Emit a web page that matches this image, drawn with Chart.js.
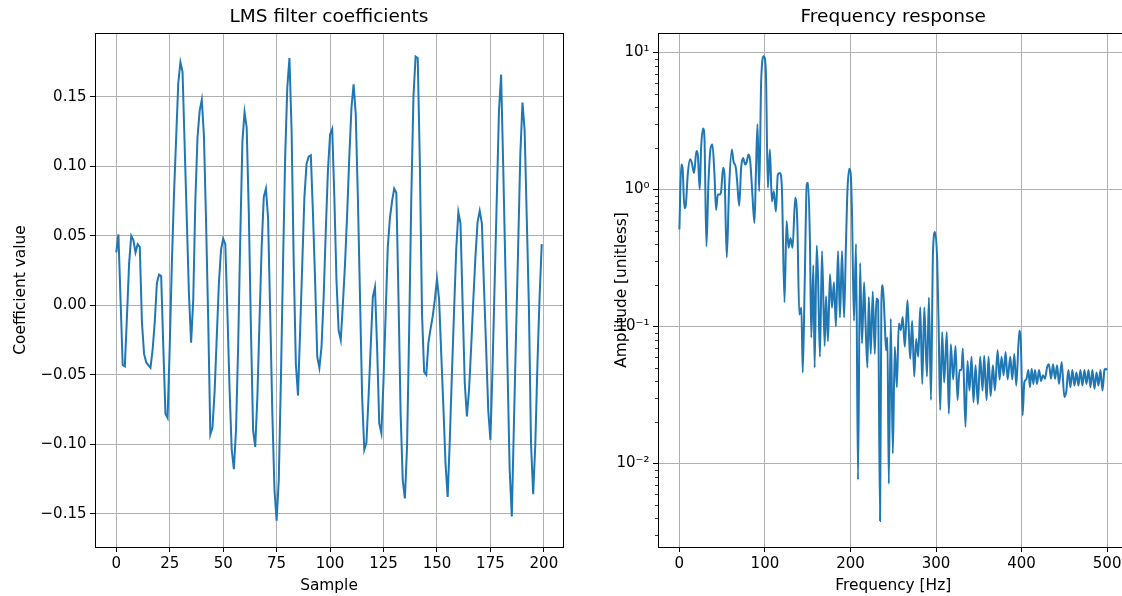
<!DOCTYPE html>
<html lang="en">
<head>
    <meta charset="UTF-8">
    <title>LMS filter</title>
    <script src="https://cdn.jsdelivr.net/npm/chart.js"></script>
    <style>
        html, body {
            margin: 0;
            padding: 0;
            width: 1122px;
            height: 596px;
            overflow: hidden;
            background: #fff;
        }
        .panel {
            position: absolute;
            top: 0;
            height: 596px;
        }
        #left-panel { left: 0; width: 570px; }
        #right-panel { left: 570px; width: 600px; }
    </style>
</head>
<body>
    <div id="left-panel" class="panel"><canvas id="coefChart"></canvas></div>
    <div id="right-panel" class="panel"><canvas id="freqChart"></canvas></div>

    <script>
        // LMS filter coefficients, one value per sample 0..199
        const coefficients = [
            0.038, 0.051, 0.004, -0.043, -0.044, -0.008, 0.030, 0.050, 0.047, 0.038,
            0.044, 0.042, -0.012, -0.035, -0.041, -0.043, -0.045, -0.032, -0.012, 0.016,
            0.022, 0.021, -0.030, -0.078, -0.081, -0.030, 0.030, 0.080, 0.120, 0.160,
            0.175, 0.168, 0.114, 0.061, 0.008, -0.027, 0.004, 0.076, 0.121, 0.140,
            0.148, 0.122, 0.060, -0.010, -0.093, -0.088, -0.062, -0.023, 0.016, 0.040,
            0.048, 0.044, -0.006, -0.061, -0.104, -0.118, -0.090, -0.030, 0.049, 0.118,
            0.139, 0.128, 0.066, -0.018, -0.090, -0.102, -0.066, -0.011, 0.042, 0.078,
            0.084, 0.063, -0.006, -0.078, -0.133, -0.155, -0.126, -0.054, 0.030, 0.107,
            0.157, 0.178, 0.126, 0.030, -0.042, -0.065, -0.018, 0.030, 0.078, 0.102,
            0.107, 0.108, 0.066, 0.018, -0.037, -0.045, -0.030, 0.006, 0.054, 0.097,
            0.123, 0.127, 0.078, 0.018, -0.018, -0.025, 0.001, 0.030, 0.066, 0.107,
            0.142, 0.159, 0.138, 0.078, 0.006, -0.066, -0.104, -0.099, -0.066, -0.030,
            0.006, 0.013, -0.030, -0.085, -0.092, -0.054, -0.006, 0.042, 0.063, 0.075,
            0.084, 0.081, 0.006, -0.078, -0.126, -0.139, -0.102, -0.018, 0.078, 0.150,
            0.179, 0.178, 0.102, -0.006, -0.048, -0.050, -0.027, -0.017, -0.008, 0.004,
            0.019, 0.004, -0.035, -0.073, -0.114, -0.138, -0.097, -0.049, -0.004, 0.040,
            0.067, 0.059, 0.001, -0.056, -0.080, -0.061, -0.030, 0.004, 0.035, 0.060,
            0.068, 0.059, 0.013, -0.031, -0.076, -0.097, -0.044, 0.017, 0.078, 0.140,
            0.166, 0.099, 0.027, -0.045, -0.118, -0.152, -0.085, -0.020, 0.044, 0.109,
            0.146, 0.126, 0.063, -0.001, -0.100, -0.136, -0.100, -0.042, 0.006, 0.044
        ];

        // frequency response
        const freqHz = [
            0, 2.2, 3.7, 5.9, 7.4, 9.8, 12.5, 14.5, 17.2, 19.9,
            21.5, 23.8, 25.4, 27.7, 29.3, 31.6, 33.9, 36.3, 38.6, 41.0,
            42.9, 44.9, 47.2, 48.8, 51.1, 52.7, 55.4, 58.1, 61.3, 63.2,
            66.0, 67.5, 69.9, 72.2, 74.5, 76.9, 78.5, 80.8, 82.8, 85.1,
            87.8, 89.4, 91.3, 93.3, 95.6, 98.7, 101.1, 103.4, 105.8, 108.1,
            110.4, 112.8, 115.1, 117.5, 119.8, 122.9, 125.3, 127.6, 129.9, 132.3,
            135.4, 137.8, 140.2, 142.6, 144.2, 146.5, 148.9, 150.5, 152.6, 154.2,
            156.6, 158.1, 160.5, 162.0, 164.3, 166.7, 169.8, 171.4, 173.7, 176.0,
            178.4, 180.7, 183.0, 185.4, 187.7, 190.1, 192.5, 194.6, 196.5, 198.7,
            200.3, 201.8, 204.1, 206.5, 208.8, 211.2, 213.5, 215.9, 217.5, 219.8,
            221.4, 223.7, 226.0, 228.4, 230.3, 232.2, 234.6, 236.1, 237.7, 240.0,
            241.6, 243.2, 244.8, 247.1, 249.5, 251.8, 254.2, 256.5, 258.8, 261.1,
            263.5, 266.6, 268.2, 269.8, 272.1, 274.5, 276.8, 279.2, 281.6, 283.9,
            286.3, 289.4, 291.7, 294.1, 296.4, 298.8, 301.4, 303.2, 304.8, 307.2,
            309.5, 312.6, 315.0, 317.3, 320.0, 322.8, 325.1, 327.5, 329.8, 331.3,
            334.4, 336.8, 339.1, 341.5, 343.8, 346.2, 348.9, 351.6, 354.4, 356.3,
            359.1, 361.4, 363.8, 366.5, 368.8, 372.0, 374.3, 376.6, 379.0, 381.3,
            383.7, 386.8, 389.1, 391.5, 393.8, 397.4, 399.3, 401.2, 403.2, 405.5,
            408.0, 409.8, 411.8, 413.8, 415.7, 418.0, 420.4, 422.7, 425.0, 427.4,
            429.7, 432.0, 434.4, 436.8, 439.1, 441.5, 443.8, 446.9, 450.0, 452.4,
            454.7, 457.1, 459.4, 461.8, 464.1, 466.5, 468.8, 471.1, 473.5, 475.8,
            478.2, 480.5, 482.8, 485.2, 487.6, 489.9, 492.2, 494.6, 496.9, 498.4,
            500.0
        ];
        const amplitude = [
            0.51, 1.52, 1.44, 0.73, 0.76, 1.29, 1.66, 1.57, 1.32, 1.91,
            1.80, 1.00, 2.01, 2.79, 2.38, 0.385, 1.09, 1.96, 2.13, 1.29,
            0.71, 0.92, 0.92, 0.97, 1.44, 1.29, 0.32, 1.03, 1.96, 1.61,
            1.44, 1.15, 0.76, 1.44, 1.70, 1.52, 1.57, 1.80, 1.61, 0.97,
            0.57, 1.29, 3.0, 0.97, 6.2, 9.4, 7.3, 1.03, 1.96, 0.82,
            0.97, 0.69, 1.29, 1.32, 1.03, 0.15, 0.59, 0.375, 0.44, 0.375,
            0.87, 0.59, 0.122, 0.137, 0.046, 0.21, 1.09, 1.12, 0.42, 0.083,
            0.28, 0.05, 0.39, 0.24, 0.06, 0.355, 0.072, 0.166, 0.078, 0.24,
            0.137, 0.21, 0.10, 0.355, 0.116, 0.355, 0.116, 0.37, 1.0, 1.42,
            1.30, 0.66, 0.11, 0.40, 0.0076, 0.29, 0.075, 0.21, 0.11, 0.05,
            0.164, 0.063, 0.18, 0.063, 0.16, 0.155, 0.0038, 0.146, 0.20, 0.11,
            0.067, 0.083, 0.0071, 0.114, 0.0118, 0.071, 0.036, 0.105, 0.094, 0.117,
            0.071, 0.155, 0.094, 0.058, 0.11, 0.043, 0.081, 0.06, 0.138, 0.038,
            0.138, 0.043, 0.163, 0.029, 0.34, 0.49, 0.30, 0.089, 0.0245, 0.091,
            0.039, 0.091, 0.023, 0.074, 0.041, 0.072, 0.029, 0.048, 0.048, 0.069,
            0.0185, 0.056, 0.034, 0.06, 0.028, 0.052, 0.027, 0.06, 0.034, 0.061,
            0.029, 0.06, 0.031, 0.052, 0.034, 0.067, 0.041, 0.06, 0.044, 0.065,
            0.041, 0.06, 0.041, 0.063, 0.037, 0.093, 0.071, 0.0224, 0.039, 0.041,
            0.048, 0.036, 0.049, 0.038, 0.048, 0.038, 0.048, 0.040, 0.044, 0.0415,
            0.050, 0.053, 0.0415, 0.053, 0.0415, 0.052, 0.038, 0.055, 0.0305, 0.034,
            0.048, 0.036, 0.048, 0.037, 0.046, 0.037, 0.048, 0.037, 0.048, 0.038,
            0.048, 0.036, 0.048, 0.035, 0.046, 0.037, 0.048, 0.034, 0.048, 0.049,
            0.048
        ];

        const sampleTicks = [0, 25, 50, 75, 100, 125, 150, 175, 200];
        const coefTicks = [-0.15, -0.10, -0.05, 0, 0.05, 0.10, 0.15];
        const freqTicks = [0, 100, 200, 300, 400, 500];
        const ampDecades = [0.01, 0.1, 1, 10];
        const ampDecadeLabels = ['10\u207B\u00B2', '10\u207B\u00B9', '10\u2070', '10\u00B9'];
        const ampMinorTicks = [
            0.003, 0.004, 0.005, 0.006, 0.007, 0.008, 0.009,
            0.02, 0.03, 0.04, 0.05, 0.06, 0.07, 0.08, 0.09,
            0.2, 0.3, 0.4, 0.5, 0.6, 0.7, 0.8, 0.9,
            2, 3, 4, 5, 6, 7, 8, 9
        ];

        const FONT = 'DejaVu Sans';
        const LINE_BLUE = '#1f77b4';
        const GRID_GREY = '#b0b0b0';
        const TICK_SIZE = 15;
        const LABEL_SIZE = 15.4;

        // spines round the plot area, plus the short minor ticks on a log axis
        function makeFrame(minorTicks) {
            return {
                id: 'frame',
                afterDraw(chart) {
                    const { ctx, chartArea: a } = chart;
                    ctx.save();
                    ctx.strokeStyle = '#000';
                    if (minorTicks) {
                        const y = chart.scales.y;
                        ctx.lineWidth = 0.8;
                        minorTicks.forEach(v => {
                            const py = Math.round(y.getPixelForValue(v)) + 0.5;
                            ctx.beginPath();
                            ctx.moveTo(a.left, py);
                            ctx.lineTo(a.left - 3, py);
                            ctx.stroke();
                        });
                    }
                    ctx.lineWidth = 1;
                    ctx.strokeRect(Math.round(a.left) + 0.5, Math.round(a.top) + 0.5,
                        Math.round(a.right - a.left), Math.round(a.bottom - a.top));
                    ctx.restore();
                }
            };
        }

        const isDecade = v => Math.abs(Math.log10(v) - Math.round(Math.log10(v))) < 1e-9;

        function titleOpts(text) {
            return {
                display: true,
                text: text,
                color: '#000',
                fullSize: false,
                font: { family: FONT, size: 18.5, weight: 'normal', lineHeight: 1.2 },
                padding: { top: 6, bottom: 4.8 }
            };
        }

        function xAxis(min, max, ticks, label) {
            return {
                type: 'linear',
                min: min,
                max: max,
                afterBuildTicks: s => { s.ticks = ticks.map(v => ({ value: v })); },
                afterFit: s => { s.height = 49; },
                grid: { color: GRID_GREY, lineWidth: 1, tickColor: '#000', tickLength: 5 },
                border: { display: false },
                ticks: { color: '#000', padding: 3, maxRotation: 0, font: { family: FONT, size: TICK_SIZE } },
                title: {
                    display: true, text: label, color: '#000',
                    font: { family: FONT, size: LABEL_SIZE, lineHeight: 1.2 },
                    padding: { top: 0, bottom: 0.8 }
                }
            };
        }

        new Chart(document.getElementById('coefChart'), {
            type: 'line',
            data: {
                datasets: [{
                    data: coefficients.map((c, i) => ({ x: i, y: c })),
                    borderColor: LINE_BLUE,
                    borderWidth: 2,
                    pointRadius: 0,
                    tension: 0,
                    fill: false
                }]
            },
            options: {
                responsive: true,
                maintainAspectRatio: false,
                animation: false,
                layout: { padding: { right: 7 } },
                plugins: {
                    legend: { display: false },
                    tooltip: { enabled: false },
                    title: titleOpts('LMS filter coefficients')
                },
                scales: {
                    x: xAxis(-9.95, 208.95, sampleTicks, 'Sample'),
                    y: {
                        type: 'linear',
                        min: -0.174,
                        max: 0.196,
                        afterBuildTicks: s => { s.ticks = coefTicks.map(v => ({ value: v })); },
                        afterFit: s => { s.width = 95; },
                        grid: { color: GRID_GREY, lineWidth: 1, tickColor: '#000', tickLength: 5 },
                        border: { display: false },
                        ticks: {
                            color: '#000', padding: 3.5,
                            font: { family: FONT, size: TICK_SIZE },
                            callback: v => v.toFixed(2).replace('-', '\u2212')
                        },
                        title: {
                            display: true, text: 'Coefficient value', color: '#000',
                            font: { family: FONT, size: LABEL_SIZE, lineHeight: 1.2 },
                            padding: { top: 11.5, bottom: 0 }
                        }
                    }
                }
            },
            plugins: [makeFrame(null)]
        });

        // the reference figure is cut off at the right edge, just past 500 Hz,
        // so this panel runs on past the window
        new Chart(document.getElementById('freqChart'), {
            type: 'line',
            data: {
                datasets: [{
                    data: freqHz.map((f, i) => ({ x: f, y: amplitude[i] })),
                    borderColor: LINE_BLUE,
                    borderWidth: 2,
                    pointRadius: 0,
                    cubicInterpolationMode: 'monotone',
                    fill: false
                }]
            },
            options: {
                responsive: true,
                maintainAspectRatio: false,
                animation: false,
                layout: { padding: { right: 41.5 } },
                plugins: {
                    legend: { display: false },
                    tooltip: { enabled: false },
                    title: titleOpts('Frequency response')
                },
                scales: {
                    x: xAxis(-25, 525, freqTicks, 'Frequency [Hz]'),
                    y: {
                        type: 'logarithmic',
                        min: 0.00245,
                        max: 13.9,
                        afterBuildTicks: s => { s.ticks = ampDecades.concat(ampMinorTicks).sort((a, b) => a - b).map(v => ({ value: v })); },
                        afterFit: s => { s.width = 88; },
                        grid: {
                            color: c => (c.tick && isDecade(c.tick.value)) ? GRID_GREY : 'rgba(0,0,0,0)',
                            tickColor: c => (c.tick && isDecade(c.tick.value)) ? '#000' : 'rgba(0,0,0,0)',
                            lineWidth: 1,
                            tickLength: 5
                        },
                        border: { display: false },
                        ticks: {
                            color: '#000', padding: 3.5, autoSkip: false,
                            font: { family: FONT, size: TICK_SIZE },
                            callback: v => {
                                const k = ampDecades.findIndex(d => Math.abs(d - v) / d < 1e-9);
                                return k >= 0 ? ampDecadeLabels[k] : '';
                            }
                        },
                        title: {
                            display: true, text: 'Amplitude [unitless]', color: '#000',
                            font: { family: FONT, size: LABEL_SIZE, lineHeight: 1.2 },
                            padding: { top: 42.5, bottom: 0 }
                        }
                    }
                }
            },
            plugins: [makeFrame(ampMinorTicks)]
        });
    </script>
</body>
</html>
